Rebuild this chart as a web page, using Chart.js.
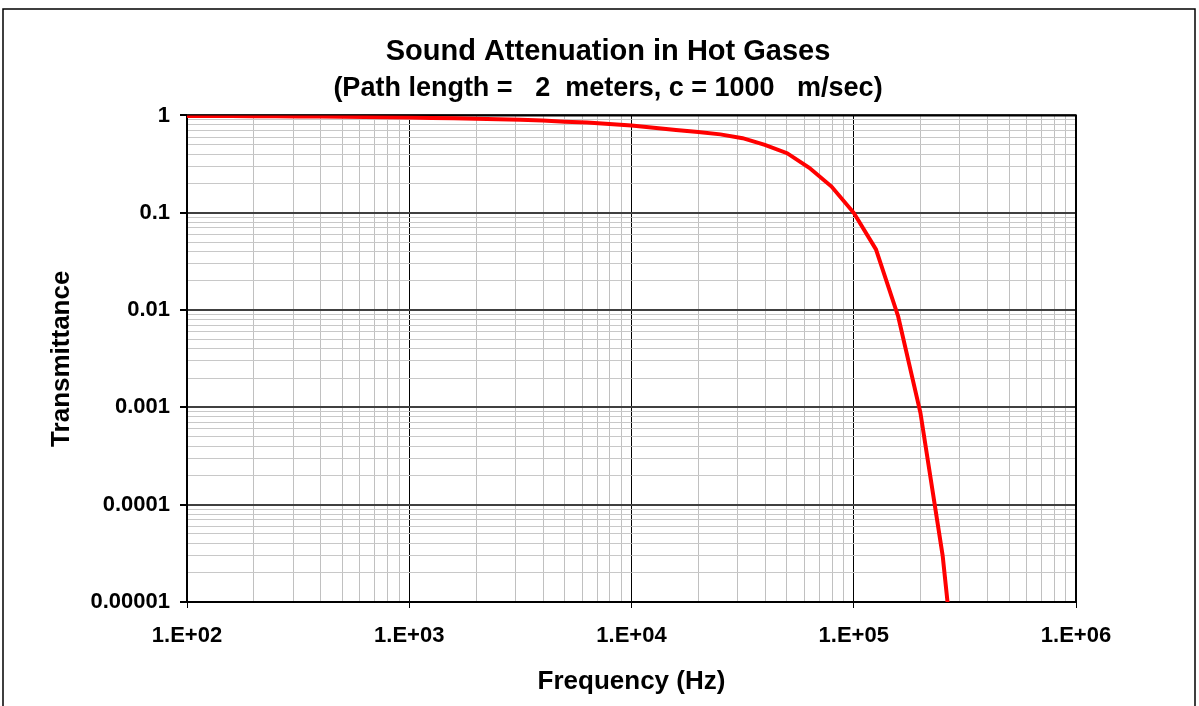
<!DOCTYPE html>
<html>
<head>
<meta charset="utf-8">
<script src="https://cdn.jsdelivr.net/npm/chart.js@4.4.1/dist/chart.umd.min.js"></script>
<style>
    body { margin: 0; background: #fff; }
    canvas { display: block; }
</style>
</head>
<body>
<canvas id="myChart" width="1199" height="706"></canvas>
<script>
// frequency (Hz) of each plotted point
var freq = [100, 126, 158, 200, 251, 316, 398, 501, 631, 794,
    1000, 1259, 1585, 1995, 2512, 3162, 3981, 5012, 6310, 7943,
    10000, 12589, 15849, 19953, 25119, 31623, 39811, 50119, 63096, 79433,
    100000, 125893, 158489, 199526, 251189, 316228];
// transmittance at each frequency
var trans = [0.99, 0.988, 0.986, 0.984, 0.981, 0.978, 0.974, 0.969, 0.964, 0.958,
    0.952, 0.945, 0.937, 0.928, 0.915, 0.903, 0.888, 0.865, 0.845, 0.82,
    0.79, 0.75, 0.71, 0.675, 0.64, 0.585, 0.5, 0.41, 0.29, 0.186,
    0.1, 0.042, 0.0086, 0.00088, 0.00003, 0.0000002];

var xTickValues = [100, 1000, 10000, 100000, 1000000];
var xTickLabels = ['1.E+02', '1.E+03', '1.E+04', '1.E+05', '1.E+06'];
var yTickValues = [0.00001, 0.0001, 0.001, 0.01, 0.1, 1];
var yTickLabels = ['0.00001', '0.0001', '0.001', '0.01', '0.1', '1'];

var FONT = 'Arial, "Liberation Sans", sans-serif';

// decade lines plus 2..9 in between
function logTicks(majors) {
    var out = [];
    for (var i = 0; i < majors.length; i++) {
        out.push({ value: majors[i] });
        if (i < majors.length - 1) {
            for (var m = 2; m <= 9; m++) out.push({ value: majors[i] * m });
        }
    }
    return out;
}

var frame = {
    id: 'frame',
    beforeDatasetsDraw: function (chart) {
        var a = chart.chartArea, c = chart.ctx;
        c.save();
        c.strokeStyle = '#000';
        c.lineWidth = 2;
        c.strokeRect(a.left, a.top, a.right - a.left, a.bottom - a.top);
        c.restore();
    },
    afterDraw: function (chart) {
        var c = chart.ctx;
        c.save();
        c.strokeStyle = '#000';
        c.lineWidth = 1.5;
        c.beginPath();
        c.moveTo(3, 710);
        c.lineTo(3, 9);
        c.lineTo(1195, 9);
        c.lineTo(1195, 710);
        c.stroke();
        c.restore();
    }
};

function createChart() {
    var ctx = document.getElementById('myChart').getContext('2d');
    var points = freq.map(function (f, i) { return { x: f, y: trans[i] }; });
    return new Chart(ctx, {
        type: 'line',
        data: {
            datasets: [{
                data: points,
                borderColor: '#ff0000',
                borderWidth: 4,
                pointRadius: 0,
                tension: 0,
                fill: false
            }]
        },
        options: {
            responsive: false,
            animation: false,
            devicePixelRatio: 1,
            layout: { padding: { left: 17, right: 0, top: 0, bottom: 0 } },
            plugins: {
                legend: { display: false },
                tooltip: { enabled: false },
                title: {
                    display: true,
                    text: 'Sound Attenuation in Hot Gases',
                    color: '#000',
                    font: { family: FONT, size: 29, weight: 'bold' },
                    padding: { top: 34.4, bottom: 2 }
                },
                subtitle: {
                    display: true,
                    text: '(Path length =   2  meters, c = 1000   m/sec)',
                    color: '#000',
                    font: { family: FONT, size: 27, weight: 'bold' },
                    padding: { top: 1.2, bottom: 10.7 }
                }
            },
            scales: {
                x: {
                    type: 'logarithmic',
                    min: 100,
                    max: 1000000,
                    afterBuildTicks: function (scale) { scale.ticks = logTicks(xTickValues); },
                    afterFit: function (scale) {
                        scale.height = 104;
                        scale.paddingRight = 123;
                    },
                    border: { display: false },
                    grid: {
                        color: function (c) { return xTickValues.indexOf(c.tick && c.tick.value) >= 0 ? '#000' : '#c0c0c0'; },
                        lineWidth: 1,
                        tickColor: function (c) { return xTickValues.indexOf(c.tick && c.tick.value) >= 0 ? '#000' : 'rgba(0,0,0,0)'; },
                        tickLength: 6
                    },
                    ticks: {
                        autoSkip: false,
                        maxRotation: 0,
                        padding: 15,
                        color: '#000',
                        font: { family: FONT, size: 22, weight: 'bold' },
                        callback: function (v) {
                            var i = xTickValues.indexOf(v);
                            return i >= 0 ? xTickLabels[i] : '';
                        }
                    },
                    title: {
                        display: true,
                        text: 'Frequency (Hz)',
                        color: '#000',
                        font: { family: FONT, size: 26, weight: 'bold' },
                        padding: { top: 9, bottom: 9 }
                    }
                },
                y: {
                    type: 'logarithmic',
                    min: 0.00001,
                    max: 1,
                    afterBuildTicks: function (scale) { scale.ticks = logTicks(yTickValues); },
                    afterFit: function (scale) { scale.width = 170; },
                    border: { display: false },
                    grid: {
                        color: function (c) { return yTickValues.indexOf(c.tick && c.tick.value) >= 0 ? '#404040' : '#c8c8c8'; },
                        lineWidth: function (c) { return yTickValues.indexOf(c.tick && c.tick.value) >= 0 ? 2 : 1; },
                        tickColor: function (c) { return yTickValues.indexOf(c.tick && c.tick.value) >= 0 ? '#000' : 'rgba(0,0,0,0)'; },
                        tickLength: 7
                    },
                    ticks: {
                        autoSkip: false,
                        padding: 10,
                        color: '#000',
                        font: { family: FONT, size: 22, weight: 'bold' },
                        callback: function (v) {
                            var i = yTickValues.indexOf(v);
                            return i >= 0 ? yTickLabels[i] : '';
                        }
                    },
                    title: {
                        display: true,
                        text: 'Transmittance',
                        color: '#000',
                        font: { family: FONT, size: 26, weight: 'bold' },
                        padding: { top: 29, bottom: 29 }
                    }
                }
            }
        },
        plugins: [frame]
    });
}

var myChart = createChart();
</script>
</body>
</html>
